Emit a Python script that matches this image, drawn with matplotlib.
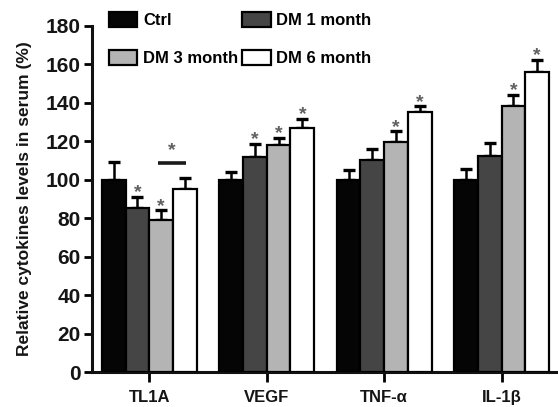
import matplotlib
matplotlib.use("Agg")
import matplotlib.pyplot as plt
from matplotlib.patches import Patch
import numpy as np

categories = ["TL1A", "VEGF", "TNF-\u03b1", "IL-1\u03b2"]
groups = ["Ctrl", "DM 1 month", "DM 3 month", "DM 6 month"]
ctrl = [100, 100, 100, 100]
dm1 = [85.5, 111.5, 110, 112.5]
dm3 = [79, 118, 119.5, 138]
dm6 = [95, 127, 135, 156]
ctrl_err = [9, 4, 5, 5.5]
dm1_err = [5.5, 7, 6, 6.5]
dm3_err = [5, 3.5, 5.5, 6]
dm6_err = [6, 4.5, 3, 6]
sig = [[0, 1, 1, 0], [0, 1, 1, 1], [0, 0, 1, 1], [0, 0, 1, 1]]
yticks = [0, 20, 40, 60, 80, 100, 120, 140, 160, 180]

colors = ["#050505", "#454545", "#b4b4b4", "#ffffff"]
values = [ctrl, dm1, dm3, dm6]
errs = [ctrl_err, dm1_err, dm3_err, dm6_err]

plt.rcParams['font.family'] = ['Liberation Sans', 'DejaVu Sans']
plt.rcParams['font.weight'] = 'bold'
txt = "#151515"
star_color = "#606060"

fig = plt.figure(figsize=(5.58, 4.07), dpi=100)
ax = fig.add_axes([0.1643, 0.0853, 0.8357, 0.852])

x = np.arange(len(categories))
w = 0.202
for i in range(4):
    xs = x + (i - 1.5) * w
    ax.bar(xs, values[i], width=w, color=colors[i], edgecolor="#000000",
           linewidth=1.6, zorder=3)
    ax.errorbar(xs, values[i], yerr=[np.zeros(4), errs[i]], fmt="none",
                ecolor="#000000", elinewidth=1.8, capsize=4.5, capthick=2.4,
                zorder=2)
    for j in range(4):
        if sig[j][i]:
            ax.annotate("*", (xs[j], values[i][j] + errs[i][j]),
                        xytext=(0, 3), textcoords="offset points",
                        ha="center", va="center", fontsize=14,
                        color=star_color, fontweight="bold", zorder=4)

# significance bar between DM 3 month and DM 6 month for TL1A
x3 = x[0] + 0.5 * w
x6 = x[0] + 1.5 * w
ax.plot([x3 - 0.03, x6 + 0.01], [108.4, 108.4], color="#1a1a1a", lw=2.6,
        solid_capstyle="butt", zorder=4)
ax.text((x3 + x6) / 2 - 0.01, 115, "*", ha="center", va="center",
        fontsize=14, color=star_color, fontweight="bold")

ax.set_xlim(-0.49, 3.48)
ax.set_ylim(0, 180)
ax.set_yticks(yticks)
ax.set_yticklabels([str(v) for v in yticks], fontsize=15, color=txt,
                   fontweight="bold")
ax.set_xticks(x)
ax.set_xticklabels(categories, fontsize=12, color=txt, fontweight="bold")
ax.tick_params(axis="y", direction="out", length=6, width=2, pad=2)
ax.tick_params(axis="x", direction="out", length=7, width=2, pad=6)
for s in ["top", "right"]:
    ax.spines[s].set_visible(False)
for s in ["left", "bottom"]:
    ax.spines[s].set_linewidth(2.2)
    ax.spines[s].set_color("#111111")

ax.set_ylabel("Relative cytokines levels in serum (%)", fontsize=12.5,
              fontweight="bold", color=txt)
ax.yaxis.set_label_coords(-0.128, 0.5)

handles = [Patch(facecolor=colors[i], edgecolor="#000000", linewidth=1.6)
           for i in range(4)]
order = [0, 2, 1, 3]
fig.legend([handles[k] for k in order], [groups[k] for k in order],
           loc="upper left", bbox_to_anchor=(0.195, 0.97), ncol=2,
           frameon=False, handlelength=1.7, handleheight=1.0,
           handletextpad=0.35, columnspacing=0.25, labelspacing=1.28,
           borderpad=0, borderaxespad=0,
           prop={"weight": "bold", "size": 12})

fig.savefig("out.png", dpi=100)
